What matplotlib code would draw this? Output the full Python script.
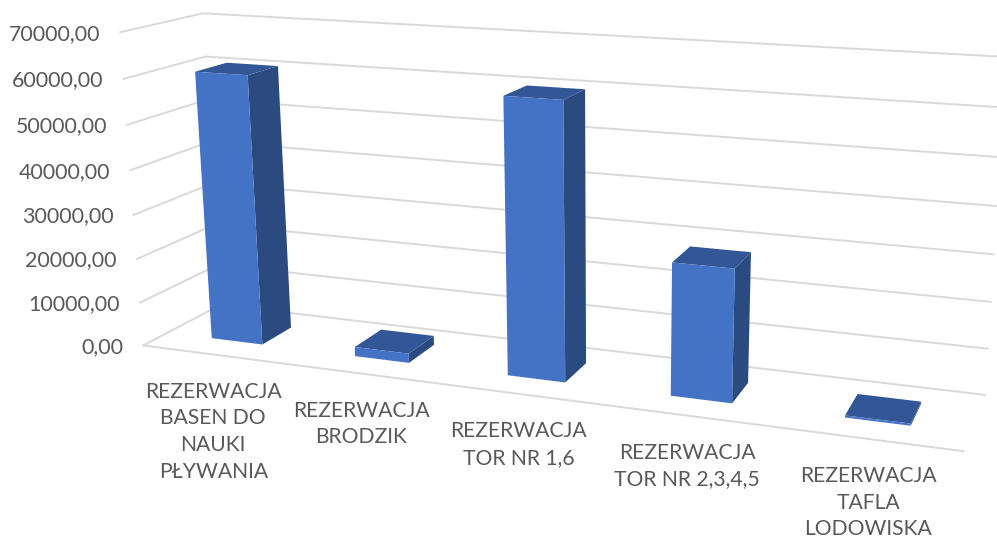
import numpy as np
import matplotlib
matplotlib.use("Agg")
import matplotlib.pyplot as plt
from matplotlib.patches import Polygon

categories = [
    "REZERWACJA\nBASEN DO\nNAUKI\nPŁYWANIA",
    "REZERWACJA\nBRODZIK",
    "REZERWACJA\nTOR NR 1,6",
    "REZERWACJA\nTOR NR 2,3,4,5",
    "REZERWACJA\nTAFLA\nLODOWISKA",
]
values = [60700, 2100, 60000, 28400, 450]
ticks = [0, 10000, 20000, 30000, 40000, 50000, 60000, 70000]
tick_labels = ["0,00", "10000,00", "20000,00", "30000,00", "40000,00", "50000,00", "60000,00", "70000,00"]
zmax = 70000

# calibration of the excel 3d box: (x, depth, z) in 0..1 -> pixel
box = [
    (0, 0, 0, 142, 345.7),
    (1, 0, 0, 964, 451),
    (0, 1, 0, 222, 305),
    (1, 1, 0, 984, 395),
    (0, 0, 1, 121, 32.7),
    (0, 1, 1, 202, 13),
    (1, 1, 1, 1005, 57),
    (0, 1, 6 / 7, 205, 56.5),
    (0, 0, 6 / 7, 124.3, 79.3),
    (0, 0, 3 / 7, 133.5, 214),
    (1, 1, 4 / 7, 997, 205.7),
    (1, 1, 1 / 7, 988, 349),
]


def fit_projection(points):
    rows, rhs = [], []
    for x, y, z, u, v in points:
        rows.append([x, y, z, 1, 0, 0, 0, 0, -u * x, -u * y, -u * z])
        rows.append([0, 0, 0, 0, x, y, z, 1, -v * x, -v * y, -v * z])
        rhs += [u, v]
    sol = np.linalg.lstsq(np.array(rows), np.array(rhs), rcond=None)[0]
    return np.append(sol, 1).reshape(3, 4)


M = fit_projection(box)


def project(x, y, val):
    p = M @ np.array([x, y, val / zmax, 1.0])
    return p[0] / p[2], p[1] / p[2]


fig = plt.figure(figsize=(9.97, 5.38), dpi=100)
ax = fig.add_axes([0, 0, 1, 1])
ax.set_xlim(0, 997)
ax.set_ylim(538, 0)
ax.axis("off")

grid = "#D9D9D9"
text_col = "#595959"
font = "Lato"

for t, lab in zip(ticks, tick_labels):
    pts = [project(0, 0, t), project(0, 1, t), project(1, 1, t)]
    ax.plot(*zip(*pts), color=grid, lw=1.4, solid_joinstyle="miter", zorder=1)
    ax.text(pts[0][0] - 20, pts[0][1] + 1.5, lab, ha="right", va="center",
            fontsize=15.4, color=text_col, family=font)

ax.plot(*zip(project(0, 0, 0), project(1, 0, 0)), color=grid, lw=1.4, zorder=1)

n = len(values)
bar_frac = 0.36
d0, d1 = 0.3, 0.7
for i, val in enumerate(values):
    x0 = (i + 0.5 - bar_frac / 2) / n
    x1 = (i + 0.5 + bar_frac / 2) / n
    front = [project(x0, d0, 0), project(x1, d0, 0), project(x1, d0, val), project(x0, d0, val)]
    side = [project(x1, d0, 0), project(x1, d1, 0), project(x1, d1, val), project(x1, d0, val)]
    top = [project(x0, d0, val), project(x1, d0, val), project(x1, d1, val), project(x0, d1, val)]
    ax.add_patch(Polygon(side, fc="#2B4A80", ec="none", zorder=2 + i))
    ax.add_patch(Polygon(top, fc="#335796", ec="none", zorder=2 + i))
    ax.add_patch(Polygon(front, fc="#4472C4", ec="none", zorder=2 + i))

    lx, ly = project((i + 0.5) / n, 0, 0)
    ax.text(lx - 0.5, ly + 27, categories[i], ha="center", va="top", fontsize=15.2,
            color=text_col, family=font, linespacing=1.42, zorder=10)

fig.savefig("out.png", dpi=100)
plt.close(fig)
